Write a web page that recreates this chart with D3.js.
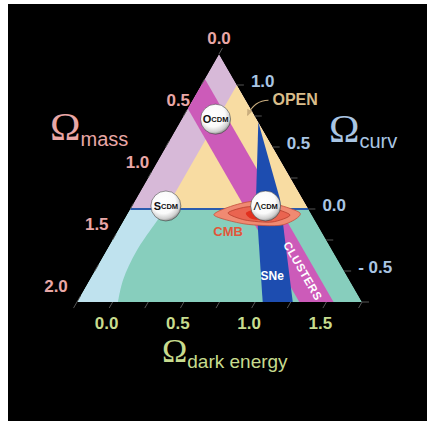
<!DOCTYPE html>
<html>
<head>
<meta charset="utf-8">
<script src="https://cdn.jsdelivr.net/npm/d3@7"></script>
<style>
  html, body { margin: 0; padding: 0; background: #fff; }
  svg { display: block; }
</style>
</head>
<body>
<svg id="chart" width="427" height="421"></svg>
<script>
// The cosmic triangle: each point obeys Ωmass + Ωdark energy + Ωcurv = 1.
// All positions are given as [ΩΛ, Ωm]; Ωcurv follows from the sum rule.

// axis ticks
const massTicks = [0.0, 0.5, 1.0, 1.5, 2.0];
const curvTicks = [1.0, 0.5, 0.0, -0.5];
const darkTicks = [0.0, 0.5, 1.0, 1.5];
const minorMass = d3.range(0, 2.001, 0.25);
const minorCurv = d3.range(-0.75, 1.001, 0.25);
const minorDark = d3.range(-0.25, 1.751, 0.25);

// triangle corners: apex, lower right, lower left
const corners = [[-0.25, 0.0], [1.75, 0.0], [-0.25, 2.0]];

// above the flat line: ΩΛ < 0 part, and open universes with ΩΛ >= 0
const upperRegion = [[-0.25, 0.0], [1.0, 0.0], [-0.25, 1.25]];
const openRegion = [[0.0, 0.0], [1.0, 0.0], [0.0, 1.0]];
// below the flat line
const closedRegion = [[-0.25, 1.25], [1.0, 0.0], [1.75, 0.0], [-0.25, 2.0]];
// expand-forever / recollapse boundary
const recollapse = [[0.0, 1.0], [-0.037, 1.368], [-0.015, 1.588], [0.038, 1.712]];

// cluster constraint on Ωm
const clusterRange = [0.2, 0.44];
// supernova constraint
const sneBand = [[0.30, 0.0], [0.76, 0.159], [1.264, 0.486], [1.053, 0.697], [0.592, 0.327]];
// CMB likelihood contours
const cmbOuter = [[0.362, 0.687], [0.469, 0.499], [0.643, 0.293], [0.957, 0.075], [0.879, 0.250], [0.616, 0.505]];
const cmbMiddle = [[0.452, 0.580], [0.554, 0.430], [0.709, 0.275], [0.895, 0.153], [0.797, 0.308], [0.600, 0.489]];
const cmbInner = [[0.578, 0.454], [0.647, 0.354], [0.789, 0.243], [0.775, 0.314], [0.645, 0.436]];

// reference models
const models = [
  { head: "O", tail: "CDM", lambda: 0.0, mass: 0.3 },
  { head: "S", tail: "CDM", lambda: 0.0, mass: 1.0 },
  { head: "\u039B", tail: "CDM", lambda: 0.7, mass: 0.3 }
];

// annotation anchors
const openTip = [0.19, 0.07];
const cmbLabelAt = [0.545, 0.673];
const sneLabelAt = [1.03, 0.54];
const clusterLabelAt = [1.21, 0.29];

const W = 427, H = 421;
const svg = d3.select("#chart");

// Ωcurv sets the height, ΩΛ and Ωm shift sideways
const curvY = d3.scaleLinear().domain([1.25, -0.75]).range([54, 302]);
const lambdaX = d3.scaleLinear().domain([-0.25, 1.75]).range([219, 362]);
const massX = d3.scaleLinear().domain([0, 2]).range([0, -142]);
const P = ([l, m]) => [lambdaX(l) + massX(m), curvY(1 - l - m)];

const polyPath = pts => d3.line()(pts.map(P)) + "Z";
const smooth = d3.line().curve(d3.curveCatmullRom.alpha(0.5));
const blobPath = pts => d3.line().curve(d3.curveCardinalClosed.tension(0.2))(pts.map(P));

svg.append("rect").attr("x", 8).attr("y", 4).attr("width", W - 8).attr("height", H - 4).attr("fill", "#000");

const defs = svg.append("defs");
defs.append("clipPath").attr("id", "tri").append("path").attr("d", polyPath(corners));
const grad = defs.append("radialGradient").attr("id", "ball")
  .attr("cx", "42%").attr("cy", "36%").attr("r", "66%");
grad.append("stop").attr("offset", "0%").attr("stop-color", "#ffffff");
grad.append("stop").attr("offset", "60%").attr("stop-color", "#fafafa");
grad.append("stop").attr("offset", "85%").attr("stop-color", "#d0d0d0");
grad.append("stop").attr("offset", "100%").attr("stop-color", "#8a8a8a");
defs.append("marker").attr("id", "arrow").attr("viewBox", "0 0 10 10")
  .attr("refX", 8).attr("refY", 5).attr("markerWidth", 6).attr("markerHeight", 6)
  .attr("orient", "auto")
  .append("path").attr("d", "M0,1 L9,5 L0,9 Z").attr("fill", "#c9ad7e");

const plot = svg.append("g").attr("clip-path", "url(#tri)");

plot.append("path").attr("d", polyPath(upperRegion)).attr("fill", "#d7b9d8");
plot.append("path").attr("d", polyPath(openRegion)).attr("fill", "#f8dca2");
plot.append("path").attr("d", polyPath(closedRegion)).attr("fill", "#87cebd");

// light region left of the recollapse boundary
const curvePart = smooth(recollapse.map(P)).replace(/^M/, "L");
plot.append("path")
  .attr("d", "M" + P([-0.25, 1.25]).join(",") + curvePart + "L" + P([-0.25, 2.0]).join(",") + "Z")
  .attr("fill", "#bfe2ee");

// clusters band: constant Ωm strip across the whole triangle
const bottomSum = 1 - (-0.75);
const clusterBand = [
  [-0.25, clusterRange[0]], [bottomSum - clusterRange[0], clusterRange[0]],
  [bottomSum - clusterRange[1], clusterRange[1]], [-0.25, clusterRange[1]]
];
plot.append("path").attr("d", polyPath(clusterBand)).attr("fill", "#cc5bb9");

plot.append("path").attr("d", polyPath(sneBand)).attr("fill", "#1d4db0");

// flat universe line
plot.append("path").attr("d", d3.line()([P([-0.25, 1.25]), P([1.0, 0.0])]))
  .attr("stroke", "#2b5cae").attr("stroke-width", 2).attr("fill", "none");

plot.append("path").attr("d", blobPath(cmbOuter)).attr("fill", "#f08a72").attr("stroke", "#c4503c").attr("stroke-width", 0.8);
plot.append("path").attr("d", blobPath(cmbMiddle)).attr("fill", "#ea6450").attr("stroke", "#b8402e").attr("stroke-width", 0.8);
plot.append("path").attr("d", blobPath(cmbInner)).attr("fill", "#e2301e");

// tick marks
const ticks = svg.append("g").attr("stroke", "#555").attr("stroke-width", 1);
const unit = (a, b) => { const dx = b[0] - a[0], dy = b[1] - a[1], n = Math.hypot(dx, dy); return [dx / n, dy / n]; };
const outMass = unit(P([0, 0.5]), P([0, 0]));      // up-left, along constant Ωm
const outDark = unit(P([0.5, 0]), P([0.5, 1]));     // down-left, along constant ΩΛ
const tickLen = 7;
minorMass.forEach(m => {
  const p = P([-0.25, m]);
  ticks.append("line").attr("x1", p[0]).attr("y1", p[1])
    .attr("x2", p[0] + outMass[0] * tickLen).attr("y2", p[1] + outMass[1] * tickLen);
});
minorCurv.forEach(k => {
  const p = P([1 - k, 0]);
  ticks.append("line").attr("x1", p[0]).attr("y1", p[1]).attr("x2", p[0] + tickLen).attr("y2", p[1]);
});
minorDark.forEach(l => {
  const p = P([l, bottomSum - l]);
  ticks.append("line").attr("x1", p[0]).attr("y1", p[1])
    .attr("x2", p[0] + outDark[0] * tickLen).attr("y2", p[1] + outDark[1] * tickLen);
});

// tick labels
const fmt = d3.format(".1f");
const labelFont = "'Liberation Sans', Arial, Helvetica, sans-serif";
const massColor = "#e9a7a6", curvColor = "#a9c5e3", darkColor = "#c7dc8e";

svg.append("g").selectAll("text").data(massTicks).join("text")
  .attr("x", m => P([-0.25, m])[0] - 10.5 * m)
  .attr("y", m => P([-0.25, m])[1] - 16)
  .attr("text-anchor", "middle").attr("dominant-baseline", "central")
  .attr("font-family", labelFont).attr("font-weight", "bold").attr("font-size", 17)
  .attr("fill", massColor).text(fmt);

svg.append("g").selectAll("text").data(curvTicks).join("text")
  .attr("x", k => P([1 - k, 0])[0] + 14)
  .attr("y", k => P([1 - k, 0])[1] - 4)
  .attr("text-anchor", "start").attr("dominant-baseline", "central")
  .attr("font-family", labelFont).attr("font-weight", "bold").attr("font-size", 17)
  .attr("fill", curvColor).text(k => k < 0 ? "- " + fmt(-k) : fmt(k));

svg.append("g").selectAll("text").data(darkTicks).join("text")
  .attr("x", l => P([l, bottomSum - l])[0] - 6)
  .attr("y", l => P([l, bottomSum - l])[1] + 21)
  .attr("text-anchor", "middle").attr("dominant-baseline", "central")
  .attr("font-family", labelFont).attr("font-weight", "bold").attr("font-size", 17)
  .attr("fill", darkColor).text(fmt);

// axis titles
function omegaTitle(x, y, sub, color, big, small) {
  const t = svg.append("text").attr("x", x).attr("y", y).attr("fill", color);
  t.append("tspan").attr("font-family", "'Liberation Serif', 'Times New Roman', serif")
    .attr("font-size", big).text("\u03A9");
  t.append("tspan").attr("font-family", labelFont).attr("font-size", small).attr("dy", 6).text(sub);
}
omegaTitle(50, 140, "mass", massColor, 41, 20);
omegaTitle(329, 142, "curv", curvColor, 41, 20);
omegaTitle(162, 362, "dark energy", darkColor, 34, 19);

// reference model balls
const balls = svg.append("g").selectAll("g").data(models).join("g")
  .attr("transform", d => { const p = P([d.lambda, d.mass]); return `translate(${p[0]},${p[1] - 3})`; });
balls.append("circle").attr("r", 15).attr("fill", "url(#ball)")
  .attr("stroke", "rgba(40,40,40,0.6)").attr("stroke-width", 0.8);
const ballText = balls.append("text").attr("text-anchor", "middle").attr("dominant-baseline", "central")
  .attr("font-family", labelFont).attr("fill", "#111");
ballText.append("tspan").attr("font-size", 11).attr("font-weight", d => d.head === "\u039B" ? "normal" : "bold").text(d => d.head);
ballText.append("tspan").attr("font-size", 7.5).attr("font-weight", "bold").text(d => d.tail);

// OPEN annotation
const tip = P(openTip);
svg.append("path")
  .attr("d", `M${tip[0] + 23},${tip[1] - 17} Q${tip[0] + 9},${tip[1] - 17} ${tip[0] + 2},${tip[1] - 2}`)
  .attr("fill", "none").attr("stroke", "#c9ad7e").attr("stroke-width", 1.2)
  .attr("marker-end", "url(#arrow)");
svg.append("text").attr("x", tip[0] + 27).attr("y", tip[1] - 12)
  .attr("font-family", labelFont).attr("font-weight", "bold").attr("font-size", 16)
  .attr("fill", "#d9bd8a").text("OPEN");

// constraint labels
const cmbP = P(cmbLabelAt);
svg.append("text").attr("x", cmbP[0]).attr("y", cmbP[1]).attr("text-anchor", "middle")
  .attr("font-family", labelFont).attr("font-weight", "bold").attr("font-size", 13)
  .attr("fill", "#e2563a").text("CMB");

const sneP = P(sneLabelAt);
svg.append("text").attr("x", sneP[0]).attr("y", sneP[1]).attr("text-anchor", "middle")
  .attr("font-family", labelFont).attr("font-weight", "bold").attr("font-size", 12)
  .attr("fill", "#fff").text("SNe");

const cl = P(clusterLabelAt);
const a0 = P([0, 0]), a1 = P([1, 0]);
const angle = Math.atan2(a1[1] - a0[1], a1[0] - a0[0]) * 180 / Math.PI;
svg.append("text").attr("transform", `translate(${cl[0]},${cl[1]}) rotate(${angle})`)
  .attr("text-anchor", "middle").attr("dominant-baseline", "central")
  .attr("font-family", labelFont).attr("font-weight", "bold").attr("font-size", 11.5)
  .attr("letter-spacing", 0.5).attr("fill", "#fff").text("CLUSTERS");
</script>
</body>
</html>
